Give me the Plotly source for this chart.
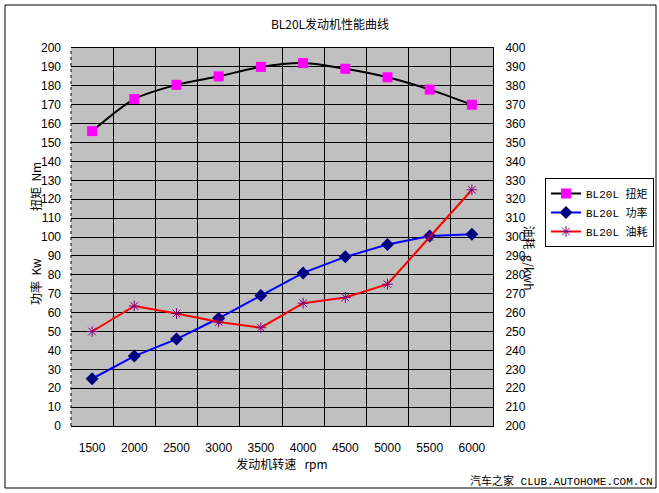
import plotly.graph_objects as go

# engine speed categories
rpm = ["1500", "2000", "2500", "3000", "3500", "4000", "4500", "5000", "5500", "6000"]

# values
torque = [156, 173, 180.5, 185, 190, 192, 189, 184.5, 178, 170]      # Nm, left axis
power = [25, 37, 46, 57, 69, 81, 89.5, 96, 100.5, 101.5]            # Kw, left axis
fuel = [250, 263.5, 259.5, 255, 252, 265, 268, 275, 300, 325]        # g/kwh, right axis

W, H = 659, 493
L, R, T, B = 71, 493, 48, 426


def px(x):
    return (x - L) / (R - L)


def py(y):
    return (B - y) / (B - T)


fig = go.Figure()

fig.add_trace(go.Scatter(
    x=rpm, y=torque, name="BL20L 扭矩", mode="lines+markers",
    line=dict(color="black", width=2, shape="spline", smoothing=0.8),
    marker=dict(symbol="square", size=10, color="#ff00ff")
))
fig.add_trace(go.Scatter(
    x=rpm, y=power, name="BL20L 功率", mode="lines+markers",
    line=dict(color="#0000ff", width=2),
    marker=dict(symbol="diamond", size=10, color="#000080")
))
fig.add_trace(go.Scatter(
    x=rpm, y=fuel, name="BL20L 油耗", mode="lines+markers", yaxis="y2",
    line=dict(color="#ff0000", width=2),
    marker=dict(symbol="asterisk-open", size=9, color="#800080",
                line=dict(color="#800080", width=1))
))

tick_font = dict(family="Liberation Sans, Arial", size=12, color="black")
cjk = "Noto Sans CJK SC, Liberation Sans"

fig.update_layout(
    width=W, height=H,
    margin=dict(l=L, r=W - R, t=T, b=H - B, autoexpand=False),
    paper_bgcolor="white",
    plot_bgcolor="#c0c0c0",
    showlegend=True,
    title=dict(text="BL20L发动机性能曲线", x=330 / W, xref="container", xanchor="center",
               y=1 - 25 / H, yanchor="middle",
               font=dict(family=cjk, size=12, color="black")),
    xaxis=dict(
        type="category", tickson="boundaries", ticks="",
        range=[-0.5, len(rpm) - 0.5],
        showgrid=True, gridcolor="black", gridwidth=1,
        showline=True, linecolor="black", linewidth=1, mirror=True,
        tickfont=tick_font, ticklabelstandoff=11,
        title=dict(text="发动机转速   rpm", font=dict(family=cjk, size=12, color="black"), standoff=6),
        zeroline=False,
    ),
    yaxis=dict(
        range=[0, 200], dtick=10, ticks="",
        showgrid=True, gridcolor="black", gridwidth=1,
        showline=False, zeroline=False,
        tickfont=tick_font, ticklabelstandoff=9,
    ),
    yaxis2=dict(
        range=[200, 400], dtick=10, ticks="", overlaying="y", side="right",
        showgrid=False, showline=True, linecolor="black", linewidth=1, zeroline=False,
        tickfont=tick_font, ticklabelstandoff=9,
    ),
    legend=dict(
        x=px(545), y=py(178), xanchor="left", yanchor="top",
        bgcolor="white", bordercolor="black", borderwidth=1,
        font=dict(family="Liberation Mono, Noto Sans CJK SC", size=11, color="black"),
        itemwidth=30, tracegroupgap=0,
    ),
)

# dotted left axis line
fig.add_shape(type="line", xref="paper", yref="paper", x0=0, x1=0, y0=0, y1=1,
              line=dict(color="black", width=1, dash="dot"))

# outer chart border
fig.add_shape(type="rect", xref="paper", yref="paper",
              x0=px(5), x1=px(656), y0=py(488), y1=py(5),
              line=dict(color="black", width=1))

# axis titles
fig.add_annotation(text="扭矩  Nm", xref="paper", yref="paper", x=px(25), y=py(160),
                   textangle=-90, showarrow=False,
                   font=dict(family=cjk, size=12, color="black"))
fig.add_annotation(text="功率  Kw", xref="paper", yref="paper", x=px(25), y=py(307),
                   textangle=-90, showarrow=False,
                   font=dict(family=cjk, size=12, color="black"))
fig.add_annotation(text="油耗  g/kwh", xref="paper", yref="paper", x=px(540), y=py(258),
                   textangle=90, showarrow=False,
                   font=dict(family=cjk, size=12, color="black"))

# watermark
fig.add_annotation(text="汽车之家 CLUB.AUTOHOME.COM.CN", xref="paper", yref="paper",
                   x=px(655), y=py(481), xanchor="right", yanchor="middle", showarrow=False,
                   font=dict(family="Liberation Mono, Noto Sans CJK SC", size=11, color="black"))

fig.write_html("out.html", config={"displayModeBar": False},
               post_script="document.body.style.margin='0';")
